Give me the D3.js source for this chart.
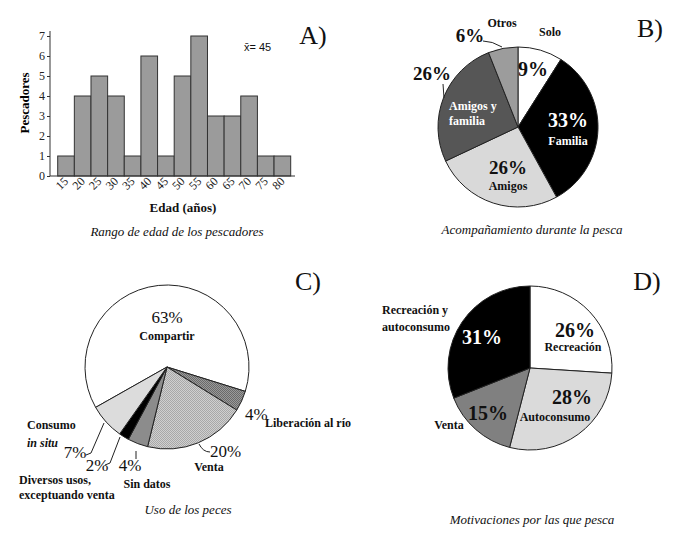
<!DOCTYPE html>
<html><head><meta charset="utf-8">
<script src="https://cdn.jsdelivr.net/npm/d3@7"></script>
<style>
body{margin:0;background:#fff;}
svg{display:block;font-family:"Liberation Serif","DejaVu Serif",serif;}
</style></head>
<body>
<svg id="c" width="679" height="534"></svg>
<script>
// ---- Data ----
const ageBins = ["15","20","25","30","35","40","45","50","55","60","65","70","75","80"];
const ageCounts = [1,4,5,4,1,6,1,5,7,3,3,4,1,1];
const yTicks = [0,1,2,3,4,5,6,7];

const compLabels = ["Solo","Familia","Amigos","Amigos y familia","Otros"];
const compValues = [9,33,26,26,6];

const usoLabels = ["Compartir","Liberación al río","Venta","Sin datos","Diversos usos, exceptuando venta","Consumo in situ"];
const usoValues = [63,4,20,4,2,7];

const motLabels = ["Recreación","Autoconsumo","Venta","Recreación y autoconsumo"];
const motValues = [26,28,15,31];

const svg = d3.select("#c");
const defs = svg.append("defs");
function stipple(id, bg, dot){
  const p = defs.append("pattern").attr("id",id).attr("patternUnits","userSpaceOnUse")
    .attr("width",2).attr("height",2);
  p.append("rect").attr("width",2).attr("height",2).attr("fill",bg);
  p.append("rect").attr("width",1).attr("height",1).attr("fill",dot);
  p.append("rect").attr("x",1).attr("y",1).attr("width",1).attr("height",1).attr("fill",dot);
}
stipple("pLib","#9a9a9a","#6a6a6a");
stipple("pVen","#d0d0d0","#a8a8a8");

function txt(g,x,y,s,o={}){
  const t=g.append("text").attr("x",x).attr("y",y).text(s)
   .attr("font-size",o.size||13).attr("text-anchor",o.anchor||"middle")
   .attr("fill",o.fill||"#111");
  if(o.bold) t.attr("font-weight","bold");
  if(o.italic) t.attr("font-style","italic");
  return t;
}

// ---- Panel A: histogram ----
{
  const g = svg.append("g");
  const x = d3.scaleBand().domain(ageBins).range([57.7,290.7]).padding(0);
  const y = d3.scaleLinear().domain([0,7]).range([176,36]);
  g.selectAll("rect.bar").data(ageCounts).join("rect")
    .attr("x",(d,i)=>x(ageBins[i])).attr("width",x.bandwidth())
    .attr("y",d=>y(d)).attr("height",d=>y(0)-y(d))
    .attr("fill","#9b9b9b").attr("stroke","#333").attr("stroke-width",1);
  const ya = g.append("g").attr("transform","translate(50,0)")
    .call(d3.axisLeft(y).tickValues(yTicks).tickSize(3).tickPadding(2).tickFormat(d3.format("d")));
  ya.select(".domain").attr("d","M-0,176V31").attr("stroke","#333");
  ya.selectAll("text").attr("font-family","Liberation Serif").attr("font-size",12).attr("fill","#222");
  ya.selectAll(".tick line").attr("stroke","#333");
  const xa = g.append("g").attr("transform","translate(0,176)")
    .call(d3.axisBottom(x).tickSize(0).tickPadding(0));
  xa.select(".domain").attr("d","M50,0H295").attr("stroke","#333");
  xa.selectAll("text").attr("font-family","Liberation Serif").attr("font-size",12).attr("fill","#222")
    .attr("text-anchor","end").attr("dy",0).attr("y",0)
    .attr("transform","translate(3,6) rotate(-45)");
  g.append("text").attr("transform","translate(29,103) rotate(-90)").attr("text-anchor","middle")
    .attr("font-size",13).attr("font-weight","bold").text("Pescadores");
  txt(g,183,212,"Edad (años)",{bold:true});
  txt(g,177,236,"Rango de edad de los pescadores",{italic:true});
  txt(g,244,51,"x\u0304= 45",{anchor:"start",size:11}).attr("font-family","Liberation Sans");
  txt(g,313,44,"A)",{size:26});
}

// ---- Panel B ----
{
  const g = svg.append("g").attr("transform","translate(518,127)");
  const r = 80;
  const cols = ["#ffffff","#000000","#d9d9d9","#565656","#9c9c9c"];
  const arcs = d3.pie().sort(null)(compValues);
  const arc = d3.arc().innerRadius(0).outerRadius(r);
  g.selectAll("path").data(arcs).join("path").attr("d",arc)
    .attr("fill",(d,i)=>cols[i]).attr("stroke","#222").attr("stroke-width",1);
  const G = svg.append("g");
  txt(G,533,76,"9%",{bold:true,size:20});
  txt(G,550,36,"Solo",{bold:true,size:12});
  txt(G,502,27,"Otros",{bold:true,size:12});
  txt(G,470,42,"6%",{bold:true,size:19});
  G.append("path").attr("d","M483,41 Q492,41 502,47").attr("fill","none").attr("stroke","#222");
  txt(G,432,80,"26%",{bold:true,size:19});
  G.append("path").attr("d","M443,84 L444,98").attr("fill","none").attr("stroke","#222");
  txt(G,449,110,"Amigos y",{bold:true,size:12,fill:"#fff",anchor:"start"});
  txt(G,449,125,"familia",{bold:true,size:12,fill:"#fff",anchor:"start"});
  txt(G,568,127,"33%",{bold:true,size:20,fill:"#fff"});
  txt(G,568,145,"Familia",{bold:true,size:12,fill:"#fff"});
  txt(G,508,174,"26%",{bold:true,size:19});
  txt(G,508,190,"Amigos",{bold:true,size:12});
  txt(G,532,234,"Acompañamiento durante la pesca",{italic:true});
  txt(G,650,37,"B)",{size:26});
}

// ---- Panel C ----
{
  const g = svg.append("g").attr("transform","translate(167,367)");
  const r = 82;
  const fills = ["#ffffff","url(#pLib)","url(#pVen)","#8c8c8c","#000000","#dcdcdc"];
  const start = -119.5*Math.PI/180;
  const arcs = d3.pie().sort(null).startAngle(start).endAngle(start+2*Math.PI)(usoValues);
  const arc = d3.arc().innerRadius(0).outerRadius(r);
  g.selectAll("path").data(arcs).join("path").attr("d",arc)
    .attr("fill",(d,i)=>fills[i]).attr("stroke","#222").attr("stroke-width",1);
  const G = svg.append("g");
  txt(G,167,323,"63%",{size:17});
  txt(G,167,340,"Compartir",{bold:true,size:12});
  txt(G,245,420,"4%",{size:17,anchor:"start"});
  txt(G,265,427,"Liberación al río",{bold:true,size:12,anchor:"start"});
  G.append("path").attr("d","M199,444 Q203,452 210,452").attr("fill","none").attr("stroke","#222");
  txt(G,210,457,"20%",{size:17,anchor:"start"});
  txt(G,209,471,"Venta",{bold:true,size:12});
  G.append("path").attr("d","M136,451 L136,459").attr("fill","none").attr("stroke","#222");
  txt(G,130,471,"4%",{size:17});
  txt(G,147,488,"Sin datos",{bold:true,size:12});
  G.append("path").attr("d","M120,437 L110,463 L105,465").attr("fill","none").attr("stroke","#222");
  txt(G,97,471,"2%",{size:17});
  txt(G,19,484,"Diversos usos,",{bold:true,size:12,anchor:"start"});
  txt(G,19,499,"exceptuando venta",{bold:true,size:12,anchor:"start"});
  G.append("path").attr("d","M104,423 L91,453 L86,455").attr("fill","none").attr("stroke","#222");
  txt(G,75,458,"7%",{size:17});
  txt(G,27,429,"Consumo",{bold:true,size:12,anchor:"start"});
  txt(G,27,447,"in situ",{bold:true,italic:true,size:12,anchor:"start"});
  txt(G,188,514,"Uso de los peces",{italic:true});
  txt(G,308,290,"C)",{size:26});
}

// ---- Panel D ----
{
  const g = svg.append("g").attr("transform","translate(530,368)");
  const r = 82;
  const cols = ["#ffffff","#dadada","#808080","#000000"];
  const arcs = d3.pie().sort(null)(motValues);
  const arc = d3.arc().innerRadius(0).outerRadius(r);
  g.selectAll("path").data(arcs).join("path").attr("d",arc)
    .attr("fill",(d,i)=>cols[i]).attr("stroke","#222").attr("stroke-width",1);
  const G = svg.append("g");
  txt(G,575,337,"26%",{bold:true,size:20});
  txt(G,573,351,"Recreación",{bold:true,size:12});
  txt(G,572,404,"28%",{bold:true,size:20});
  txt(G,555,421,"Autoconsumo",{bold:true,size:12});
  txt(G,488,420,"15%",{bold:true,size:20});
  txt(G,449,429,"Venta",{bold:true,size:12});
  txt(G,482,344,"31%",{bold:true,size:20,fill:"#fff"});
  txt(G,382,314,"Recreación y",{bold:true,size:12,anchor:"start"});
  txt(G,382,331,"autoconsumo",{bold:true,size:12,anchor:"start"});
  txt(G,532,524,"Motivaciones por las que pesca",{italic:true});
  txt(G,647,290,"D)",{size:26});
}
</script>
</body></html>
